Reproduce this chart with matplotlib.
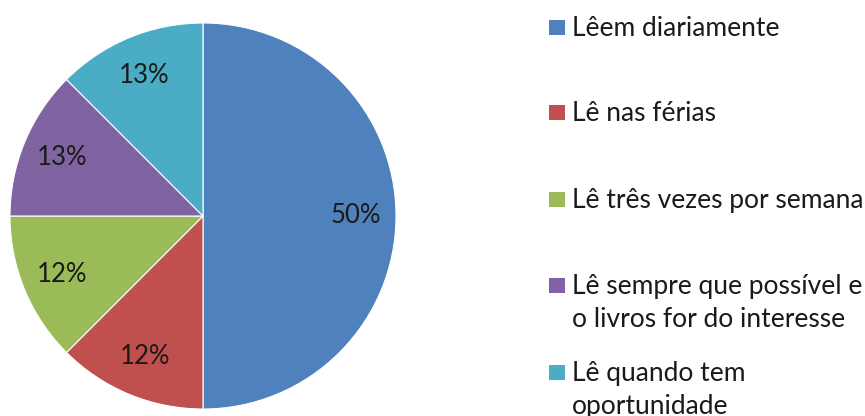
import numpy as np
import matplotlib.pyplot as plt
from matplotlib.patches import Rectangle

categories = [
    "Lêem diariamente",
    "Lê nas férias",
    "Lê três vezes por semana",
    "Lê sempre que possível e\no livros for do interesse",
    "Lê quando tem\noportunidade",
]
values = [50, 12.5, 12.5, 12.5, 12.5]
pct_labels = ["50%", "12%", "12%", "13%", "13%"]
colors = ["#4F81BD", "#C0504D", "#9BBB59", "#8064A2", "#4BACC6"]

plt.rcParams["font.family"] = ["Lato", "DejaVu Sans"]

W, H = 865, 416
fig = plt.figure(figsize=(W / 100, H / 100), dpi=100)

# pie area
ax = fig.add_axes([10 / W, (H - 409) / H, 386 / W, 386 / H])
wedges, texts = ax.pie(values, colors=colors, startangle=90, counterclock=False,
                       wedgeprops=dict(edgecolor="white", linewidth=0.8))
for w, lab in zip(wedges, pct_labels):
    ang = np.deg2rad((w.theta1 + w.theta2) / 2)
    ax.text(0.79 * np.cos(ang), 0.79 * np.sin(ang), lab, ha="center", va="center",
            fontsize=18.5, color="#1a1a1a")
ax.set_xlim(-1, 1)
ax.set_ylim(-1, 1)
ax.set_aspect("equal")
ax.axis("off")

# legend drawn by hand
row_y = [27, 112, 199, 285, 372]   # pixel centre of first line, from top
line_step = 33
for name, col, y in zip(categories, colors, row_y):
    fig.patches.append(Rectangle((549 / W, (H - y - 8) / H), 16 / W, 15 / H,
                                 transform=fig.transFigure, facecolor=col,
                                 edgecolor="none"))
    for k, line in enumerate(name.split("\n")):
        fig.text(572 / W, (H - y - 9 - k * line_step) / H, line, ha="left",
                 va="baseline", fontsize=19, color="#1a1a1a")

fig.savefig("out.png", dpi=100)
